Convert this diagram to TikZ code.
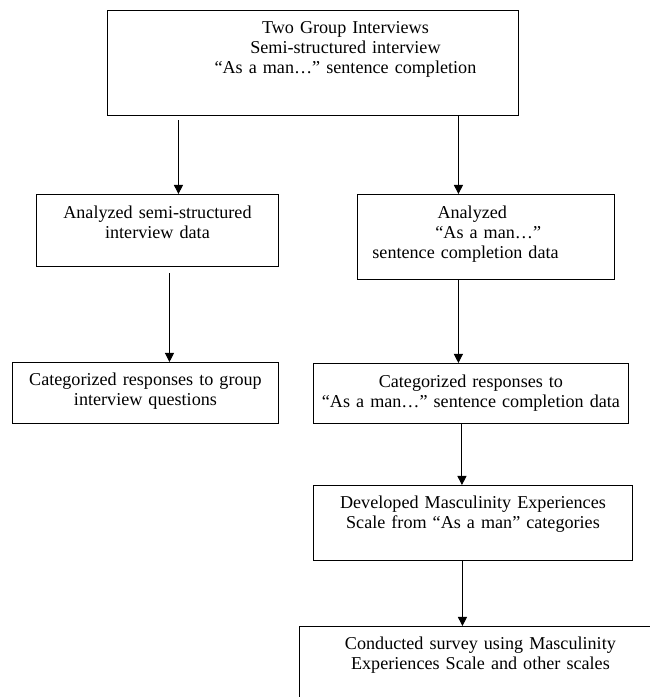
\documentclass[tikz,border=0pt]{standalone}
\usepackage{fontspec}
\setmainfont{Liberation Serif}
\usetikzlibrary{arrows.meta}

\begin{document}
\begin{tikzpicture}[
  x=0.662pt, y=-0.662pt,
  every node/.style={font=\fontsize{12}{13.24}\selectfont},
  stage/.style={draw, line width=0.6pt, anchor=north west, inner sep=0pt,
    align=center},
  flow/.style={-{Triangle[length=6pt, width=6pt]}, line width=0.6pt},
]
\useasboundingbox (0,0) rectangle (650,697);

% Interviews
\node[stage, text width=272.1pt, text height=15.2pt, text depth=54.3pt] (interviews) at (107,10)
  {\hspace*{43pt}Two Group Interviews\\\hspace*{43pt}Semi-structured interview\\\hspace*{43pt}“As a man…” sentence completion};

% Semi-structured branch
\node[stage, text width=160.2pt, text height=15.9pt, text depth=31.8pt] (semidata) at (36,194)
  {Analyzed semi-structured\\interview data};
\node[stage, text width=176.1pt, text height=15.2pt, text depth=25.2pt] (semicat) at (12,362)
  {Categorized responses to group\\interview questions};

% Sentence completion branch
\node[stage, align=left, text width=170.1pt, text height=15.9pt, text depth=40.4pt] (sentdata) at (357,194)
  {\hspace*{53pt}Analyzed\\\hspace*{51.6pt}“As a man…”\\\hspace*{9.9pt}sentence completion data};
\node[stage, text width=208.5pt, text height=15.9pt, text depth=23.8pt] (sentcat) at (313,363)
  {Categorized responses to\\“As a man…” sentence completion data};
\node[stage, text width=211.2pt, text height=15.2pt, text depth=34.4pt] (scale) at (313,485)
  {Developed Masculinity Experiences\\Scale from “As a man” categories};
\node[stage, text width=239.6pt, text height=15.2pt, text depth=39.7pt] (survey) at (299,626)
  {Conducted survey using Masculinity\\Experiences Scale and other scales};

% Arrows
\draw[flow] ([xshift=13.9pt, yshift=-3pt]semidata.north |- interviews.south) -- ([xshift=13.9pt]semidata.north);
\draw[flow] ([xshift=-18.2pt]sentdata.north |- interviews.south) -- ([xshift=-18.2pt]sentdata.north);
\draw[flow] ([xshift=15.9pt, yshift=-4pt]semicat.north |- semidata.south) -- ([xshift=15.9pt]semicat.north);
\draw[flow] ([xshift=-8.3pt]sentcat.north |- sentdata.south) -- ([xshift=-8.3pt]sentcat.north);
\draw[flow] ([xshift=-7.3pt]scale.north |- sentcat.south) -- ([xshift=-7.3pt]scale.north);
\draw[flow] ([xshift=-11.9pt]survey.north |- scale.south) -- ([xshift=-11.9pt]survey.north);

\end{tikzpicture}
\end{document}
